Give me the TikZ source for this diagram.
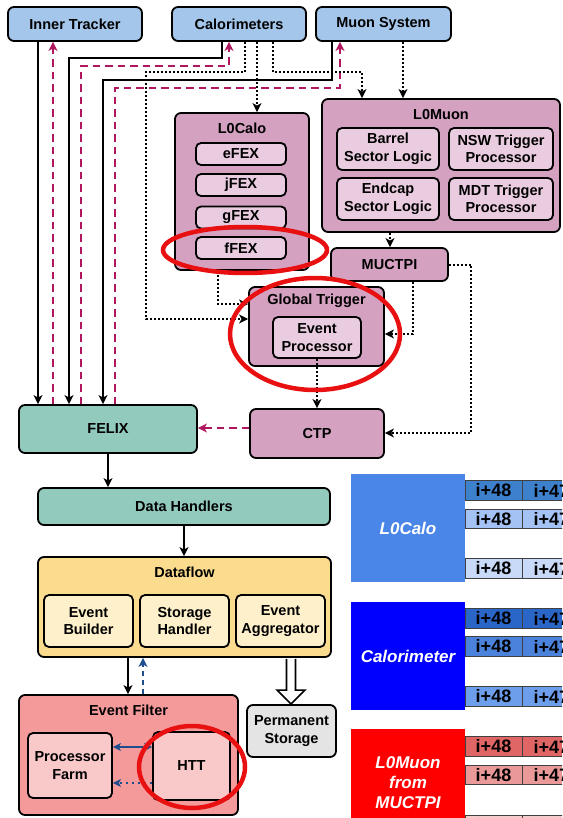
\documentclass[tikz,border=0pt]{standalone}
\usepackage{fontspec}
\setmainfont{Liberation Sans}
\usetikzlibrary{arrows.meta,calc}

\definecolor{detblue}{HTML}{A4C6EB}
\definecolor{trigpink}{HTML}{D4A1C1}
\definecolor{trigpinklt}{HTML}{E9CCDF}
\definecolor{felixteal}{HTML}{93CABE}
\definecolor{dfyellow}{HTML}{FBDB8E}
\definecolor{dfyellowlt}{HTML}{FDF0CB}
\definecolor{efred}{HTML}{F59A9B}
\definecolor{efredlt}{HTML}{F9C9C9}
\definecolor{storgray}{HTML}{E4E4E4}
\definecolor{ctrlred}{HTML}{B0175E}
\definecolor{navy}{HTML}{1F4E8C}
\definecolor{ringred}{HTML}{E81010}
\definecolor{calostream}{HTML}{4A86E8}
\definecolor{calorstream}{HTML}{0000FF}
\definecolor{muonstream}{HTML}{FF0000}
\definecolor{lcA}{HTML}{3D80CC}
\definecolor{lcB}{HTML}{A4C2F4}
\definecolor{lcC}{HTML}{C9DAF8}
\definecolor{caA}{HTML}{2A66C8}
\definecolor{caB}{HTML}{4A82DC}
\definecolor{caC}{HTML}{6D9EEB}
\definecolor{muA}{HTML}{E06666}
\definecolor{muB}{HTML}{EA9999}
\definecolor{muC}{HTML}{F4CCCC}

\tikzset{
  box/.style={draw=black, line width=1.8pt, rounded corners=6pt, inner sep=0pt,
    align=center, font=\bfseries\fontsize{14.5}{17.5}\selectfont},
  sub/.style={box, rounded corners=5pt},
  title/.style={font=\bfseries\fontsize{14.5}{17.5}\selectfont, inner sep=0pt},
  tip/.style={-{Stealth[length=9pt,width=9pt,inset=2.5pt]}},
  data/.style={tip, line width=1.8pt},
  ctrl/.style={tip, draw=ctrlred, line width=2.3pt, dash pattern=on 7.5pt off 5pt},
  trig/.style={tip, line width=2pt, dash pattern=on 2pt off 2pt},
  ring/.style={draw=ringred, line width=4.5pt},
  cell/.style={draw=black!75, line width=0.8pt, minimum width=57pt, minimum height=19.5pt,
    inner sep=0pt, font=\bfseries\fontsize{18}{18}\selectfont},
  stream/.style={minimum width=114pt, minimum height=108pt, inner sep=0pt, text=white,
    align=center, font=\bfseries\itshape\fontsize{17}{20}\selectfont},
}

\begin{document}
\begin{tikzpicture}[x=1pt, y=-1pt]
\useasboundingbox (0,0) rectangle (562,818);
\clip (0,0) rectangle (562,818);
\fill[white] (0,0) rectangle (562,818);

% detector systems
\node[box, fill=detblue, minimum width=134pt, minimum height=34pt] (inner) at (75,24) {Inner Tracker};
\node[box, fill=detblue, minimum width=134pt, minimum height=34pt] (calo) at (239,24) {Calorimeters};
\node[box, fill=detblue, minimum width=135pt, minimum height=34pt] (muon) at (383.5,24) {Muon System};

% L0Calo
\node[box, fill=trigpink, minimum width=134pt, minimum height=157pt] (l0calo) at (242,191.5) {};
\node[title] (l0calot) at (242,128) {L0Calo};
\node[sub, fill=trigpinklt, minimum width=90pt, minimum height=22pt] (efex) at (241,154) {eFEX};
\node[sub, fill=trigpinklt, minimum width=90pt, minimum height=22pt] (jfex) at (241,185) {jFEX};
\node[sub, fill=trigpinklt, minimum width=90pt, minimum height=22pt] (gfex) at (241,217.5) {gFEX};
\node[sub, fill=trigpinklt, minimum width=90pt, minimum height=22pt] (ffex) at (241,248) {fFEX};

% L0Muon
\node[box, fill=trigpink, minimum width=238pt, minimum height=133pt] (l0muon) at (441,165.5) {};
\node[title] (l0muont) at (441,115) {L0Muon};
\node[sub, fill=trigpinklt, minimum width=102pt, minimum height=42pt] (barrel) at (388,149) {Barrel\\Sector Logic};
\node[sub, fill=trigpinklt, minimum width=104pt, minimum height=42pt] (nsw) at (501,149) {NSW Trigger\\Processor};
\node[sub, fill=trigpinklt, minimum width=102pt, minimum height=42pt] (endcap) at (388,199) {Endcap\\Sector Logic};
\node[sub, fill=trigpinklt, minimum width=104pt, minimum height=42pt] (mdt) at (501,199) {MDT Trigger\\Processor};

\node[box, fill=trigpink, minimum width=117pt, minimum height=33pt] (muctpi) at (389.5,264.5) {MUCTPI};

% Global Trigger
\node[box, fill=trigpink, minimum width=135pt, minimum height=79pt] (global) at (316.5,326.5) {};
\node[title] (globalt) at (316.5,301) {Global Trigger};
\node[sub, fill=trigpinklt, minimum width=88pt, minimum height=41pt] (evproc) at (317,337.5) {Event\\Processor};

\node[box, fill=trigpink, minimum width=134pt, minimum height=49pt] (ctp) at (317,433.5) {CTP};
\node[box, fill=felixteal, minimum width=178pt, minimum height=48pt] (felix) at (108,429) {FELIX};
\node[box, fill=felixteal, minimum width=292pt, minimum height=37pt] (dh) at (184,506.5) {Data Handlers};

% Dataflow
\node[box, fill=dfyellow, minimum width=293pt, minimum height=100pt] (dataflow) at (184.5,607) {};
\node[title] (dataflowt) at (184.5,572) {Dataflow};
\node[sub, fill=dfyellowlt, minimum width=89pt, minimum height=52pt] (eb) at (88.5,621) {Event\\Builder};
\node[sub, fill=dfyellowlt, minimum width=89pt, minimum height=52pt] (sh) at (184.5,621) {Storage\\Handler};
\node[sub, fill=dfyellowlt, minimum width=89pt, minimum height=52pt] (ea) at (280.5,621) {Event\\Aggregator};

% Event Filter
\node[box, fill=efred, minimum width=219pt, minimum height=120pt] (ef) at (128.5,755) {};
\node[title] (eft) at (128.5,710) {Event Filter};
\node[sub, fill=efredlt, minimum width=84pt, minimum height=65pt] (pf) at (70,765.5) {Processor\\Farm};
\node[sub, fill=efredlt, minimum width=77pt, minimum height=68pt] (htt) at (191.5,766) {HTT};

\node[box, fill=storgray, minimum width=89pt, minimum height=52pt] (perm) at (291.5,731) {Permanent\\Storage};

% readout data paths
\draw[data] (inner.south -| 38,0) -- (felix.north -| 38,0);
\draw[data] (calo.south -| 222,0) |- (69,58) -- (felix.north -| 69,0);
\draw[data] (muon.south -| 332,0) |- (103,80) -- (felix.north -| 103,0);

% control paths back to the detectors
\draw[ctrl] (felix.north -| 53,0) -- (inner.south -| 53,0);
\draw[ctrl] (felix.north -| 81,0) |- (229,66) -- (calo.south -| 229,0);
\draw[ctrl] (felix.north -| 115,0) |- (340,88) -- (muon.south -| 340,0);
\draw[ctrl] (ctp.west |- 0,428) -- (felix.east |- 0,428);

% trigger paths
\draw[trig] (calo.south -| 245,0) |- (146,72) |- (global.west |- 0,319);
\draw[trig] (calo.south -| 257,0) -- (l0calo.north -| 257,0);
\draw[trig] (calo.south -| 273,0) |- (362,72) -- (l0muon.north -| 362,0);
\draw[trig] (muon.south -| 403,0) -- (l0muon.north -| 403,0);
\draw[trig] (l0muon.south -| 390,0) -- (muctpi.north -| 390,0);
\draw[trig] (l0calo.south -| 218,0) |- (global.west |- 0,304);
\draw[trig] (muctpi.south -| 413,0) |- (global.east |- 0,334);
\draw[trig] (muctpi.east) -| (471,433) -- (ctp.east |- 0,433);
\draw[trig] (evproc.south) -- (ctp.north -| evproc.south);

% dataflow paths
\draw[data] (felix.south) -- (dh.north -| felix.south);
\draw[data] (dh.south) -- (dataflow.north -| dh.south);
\draw[data] (dataflow.south -| 128,0) -- (ef.north -| 128,0);
\draw[tip, draw=navy, line width=1.8pt, dash pattern=on 5pt off 4pt] (ef.north -| 143,0) -- (dataflow.south -| 143,0);
\draw[{Stealth[length=8pt,width=8pt,inset=2pt]}-{Stealth[length=8pt,width=8pt,inset=2pt]}, draw=navy, line width=1.6pt]
  (pf.east |- 0,747) -- (htt.west |- 0,747);
\draw[-{Stealth[length=8pt,width=8pt,inset=2pt]}, draw=navy, line width=1.8pt, dash pattern=on 2pt off 4pt]
  (htt.west |- 0,783) -- (pf.east |- 0,783);

% hollow arrow to permanent storage
\coordinate (hs) at (dataflow.south -| 291,0);
\coordinate (ht) at (perm.north -| 291,0);
\draw[line width=1.6pt, fill=white, line join=miter]
  ($(hs)+(-4.5,0.9)$) -- ($(ht)+(-4.5,-14)$) -- ($(ht)+(-14,-14)$) -- (ht)
  -- ($(ht)+(14,-14)$) -- ($(ht)+(4.5,-14)$) -- ($(hs)+(4.5,0.9)$);

% highlight rings
\draw[ring] (245,250) ellipse [x radius=82, y radius=23];
\draw[ring] (315,334) ellipse [x radius=85, y radius=56];
\draw[ring] (192,767) ellipse [x radius=53, y radius=41];

% data streams
\node[stream, fill=calostream] (slc) at (408,528) {L0Calo};
\node[stream, fill=calorstream] (sca) at (408,656) {Calorimeter};
\node[stream, fill=muonstream] (smu) at (408,783) {L0Muon\\from\\MUCTPI};

\foreach \yy/\col [count=\k] in {490.5/lcA, 519/lcB, 568.5/lcC,
                                  618.5/caA, 646.5/caB, 696.5/caC,
                                  746.5/muA, 775/muB, 825/muC} {
  \node[cell, fill=\col] (r\k a) at (493.5,\yy) {i+48};
  \node[cell, fill=\col, anchor=west] (r\k b) at (r\k a.east) {i+47};
}
\end{tikzpicture}
\end{document}
